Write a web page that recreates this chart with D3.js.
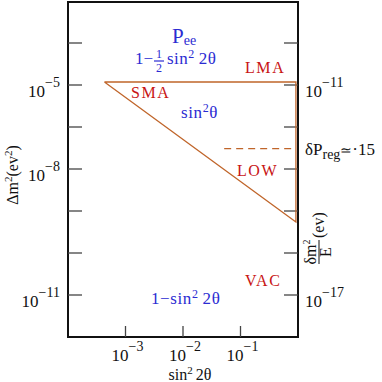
<!DOCTYPE html>
<html>
<head>
<meta charset="utf-8">
<script src="https://cdn.jsdelivr.net/npm/d3@7"></script>
<style>
  body { margin: 0; background: #fff; }
  svg text { font-family: "Liberation Serif", serif; }
</style>
</head>
<body>
<svg id="chart" width="382" height="382"></svg>
<script>
// tick labels (schematic figure, labels as printed)
const xTickValues = [1e-3, 1e-2, 1e-1]
const xTickExp = ["\u22123", "\u22122", "\u22121"]
const yTickValues = [10 ** -3.5, 1e-5, 10 ** -6.5, 1e-8, 10 ** -9.5, 1e-11, 10 ** -12.5]
const leftTickExp = ["", "\u22125", "", "\u22128", "", "", "\u221211"]
const rightTickExp = ["", "\u221211", "", "", "", "", "\u221217"]

// region boundary (sin^2 2theta, dm^2)
const boundaryX = [4.3e-4, 0.92, 0.92, 4.3e-4]
const boundaryY = [1.28e-5, 1.28e-5, 1.28e-10, 1.28e-5]
const dashX = [0.052, 0.92]
const dashY = [5.3e-8, 5.3e-8]

const regionNames = ["LMA", "SMA", "LOW", "VAC"]

const blue = "#2b2bd2"
const red = "#c81414"
const orange = "#c0652a"

let svg = d3.select("#chart")

let x = d3.scaleLog().domain([1e-4, 1]).range([68, 298])
let y = d3.scaleLog().domain([1e-2, 1e-14]).range([1, 337])

// frame
svg.append("rect")
  .attr("x", 68).attr("y", 2)
  .attr("width", 230).attr("height", 335)
  .attr("fill", "none")
  .attr("stroke", "#111")
  .attr("stroke-width", 2)

// ticks
let tickColor = "#444"
svg.append("g").selectAll("line")
  .data(yTickValues).enter().append("line")
  .attr("x1", 68).attr("x2", 82)
  .attr("y1", d => y(d)).attr("y2", d => y(d))
  .attr("stroke", tickColor).attr("stroke-width", 1.3)
svg.append("g").selectAll("line")
  .data(yTickValues).enter().append("line")
  .attr("x1", 284).attr("x2", 298)
  .attr("y1", d => y(d)).attr("y2", d => y(d))
  .attr("stroke", tickColor).attr("stroke-width", 1.3)
svg.append("g").selectAll("line")
  .data(xTickValues).enter().append("line")
  .attr("x1", d => x(d)).attr("x2", d => x(d))
  .attr("y1", 337).attr("y2", 326)
  .attr("stroke", tickColor).attr("stroke-width", 1.3)

// power of ten label
function pow10(px, py, exp, anchor) {
  let t = svg.append("text")
    .attr("x", px).attr("y", py)
    .attr("text-anchor", anchor)
    .attr("fill", "#111")
  t.append("tspan").attr("font-size", 17).text("10")
  t.append("tspan").attr("font-size", 14).attr("dy", -10).text(exp)
}

yTickValues.forEach((v, i) => {
  if (leftTickExp[i]) pow10(60, y(v) + 12, leftTickExp[i], "end")
  if (rightTickExp[i]) pow10(305, y(v) + 12, rightTickExp[i], "start")
})
xTickValues.forEach((v, i) => pow10(x(v) + 2, 361, xTickExp[i], "middle"))

// boundary lines
let line = d3.line().x(d => x(d[0])).y(d => y(d[1]))
svg.append("path")
  .attr("d", line(d3.zip(boundaryX, boundaryY)))
  .attr("fill", "none")
  .attr("stroke", orange)
  .attr("stroke-width", 1.3)
svg.append("path")
  .attr("d", line(d3.zip(dashX, dashY)))
  .attr("fill", "none")
  .attr("stroke", orange)
  .attr("stroke-width", 1.3)
  .attr("stroke-dasharray", "7,5")

// region names
let namePos = [[245, 73], [131, 98], [237, 176], [245, 286]]
regionNames.forEach((n, i) => {
  svg.append("text")
    .attr("x", namePos[i][0]).attr("y", namePos[i][1])
    .attr("font-size", 16)
    .attr("letter-spacing", 1.6)
    .attr("fill", red)
    .text(n)
})

// probability formulas
let pee = svg.append("text").attr("x", 172).attr("y", 43).attr("fill", blue)
pee.append("tspan").attr("font-size", 21).text("P")
pee.append("tspan").attr("font-size", 14).attr("dy", 2).text("ee")

svg.append("text").attr("x", 135).attr("y", 64).attr("fill", blue).attr("font-size", 17)
  .text("1\u2212")
svg.append("text").attr("x", 159).attr("y", 58).attr("text-anchor", "middle")
  .attr("fill", blue).attr("font-size", 12).text("1")
svg.append("line").attr("x1", 154).attr("x2", 164).attr("y1", 61).attr("y2", 61)
  .attr("stroke", blue).attr("stroke-width", 1.2)
svg.append("text").attr("x", 159).attr("y", 72).attr("text-anchor", "middle")
  .attr("fill", blue).attr("font-size", 12).text("2")
let f1b = svg.append("text").attr("x", 167).attr("y", 64).attr("fill", blue)
  .attr("font-size", 17).attr("letter-spacing", 0.5)
f1b.append("tspan").text("sin")
f1b.append("tspan").attr("font-size", 12).attr("dy", -6).text("2")
f1b.append("tspan").attr("dy", 6).text("\u20092\u03b8")

let f2 = svg.append("text").attr("x", 181).attr("y", 118).attr("fill", blue)
  .attr("font-size", 17).attr("letter-spacing", 0.6)
f2.append("tspan").text("sin")
f2.append("tspan").attr("font-size", 12).attr("dy", -6).text("2")
f2.append("tspan").attr("dy", 6).text("\u03b8")

let f3 = svg.append("text").attr("x", 151).attr("y", 304).attr("fill", blue)
  .attr("font-size", 17).attr("letter-spacing", 0.6)
f3.append("tspan").text("1\u2212sin")
f3.append("tspan").attr("font-size", 12).attr("dy", -6).text("2")
f3.append("tspan").attr("dy", 6).text("\u20092\u03b8")

// axis titles
let xt = svg.append("text").attr("x", 190).attr("y", 380).attr("text-anchor", "middle")
  .attr("fill", "#111").attr("font-size", 16)
xt.append("tspan").text("sin")
xt.append("tspan").attr("font-size", 11).attr("dy", -6).text("2")
xt.append("tspan").attr("dy", 6).text("\u20092\u03b8")

let yt = svg.append("text")
  .attr("transform", "translate(18,175) rotate(-90)")
  .attr("text-anchor", "middle")
  .attr("fill", "#111").attr("font-size", 16)
yt.append("tspan").text("\u0394m")
yt.append("tspan").attr("font-size", 11).attr("dy", -6).text("2")
yt.append("tspan").attr("dy", 6).text("(ev")
yt.append("tspan").attr("font-size", 11).attr("dy", -6).text("2")
yt.append("tspan").attr("dy", 6).text(")")

// right side notes
let dp = svg.append("text").attr("x", 305).attr("y", 155).attr("fill", "#111").attr("font-size", 17)
dp.append("tspan").text("\u03b4P")
dp.append("tspan").attr("font-size", 14).attr("dy", 4).text("reg")
dp.append("tspan").attr("font-size", 14).attr("dy", -4).text("\u2243")
dp.append("tspan").text("\u00b715")

let rt = svg.append("g").attr("transform", "translate(319,265) rotate(-90)")
rt.append("text").attr("x", 13).attr("y", -3).attr("text-anchor", "middle")
  .attr("fill", "#111").attr("font-size", 16)
  .call(t => {
    t.append("tspan").text("\u03b4m")
    t.append("tspan").attr("font-size", 10).attr("dy", -6).text("2")
  })
rt.append("line").attr("x1", 1).attr("x2", 25).attr("y1", 0).attr("y2", 0)
  .attr("stroke", "#111").attr("stroke-width", 1)
rt.append("text").attr("x", 13).attr("y", 12).attr("text-anchor", "middle")
  .attr("fill", "#111").attr("font-size", 16).text("E")
rt.append("text").attr("x", 27).attr("y", 5)
  .attr("fill", "#111").attr("font-size", 16).text("(ev)")
</script>
</body>
</html>
